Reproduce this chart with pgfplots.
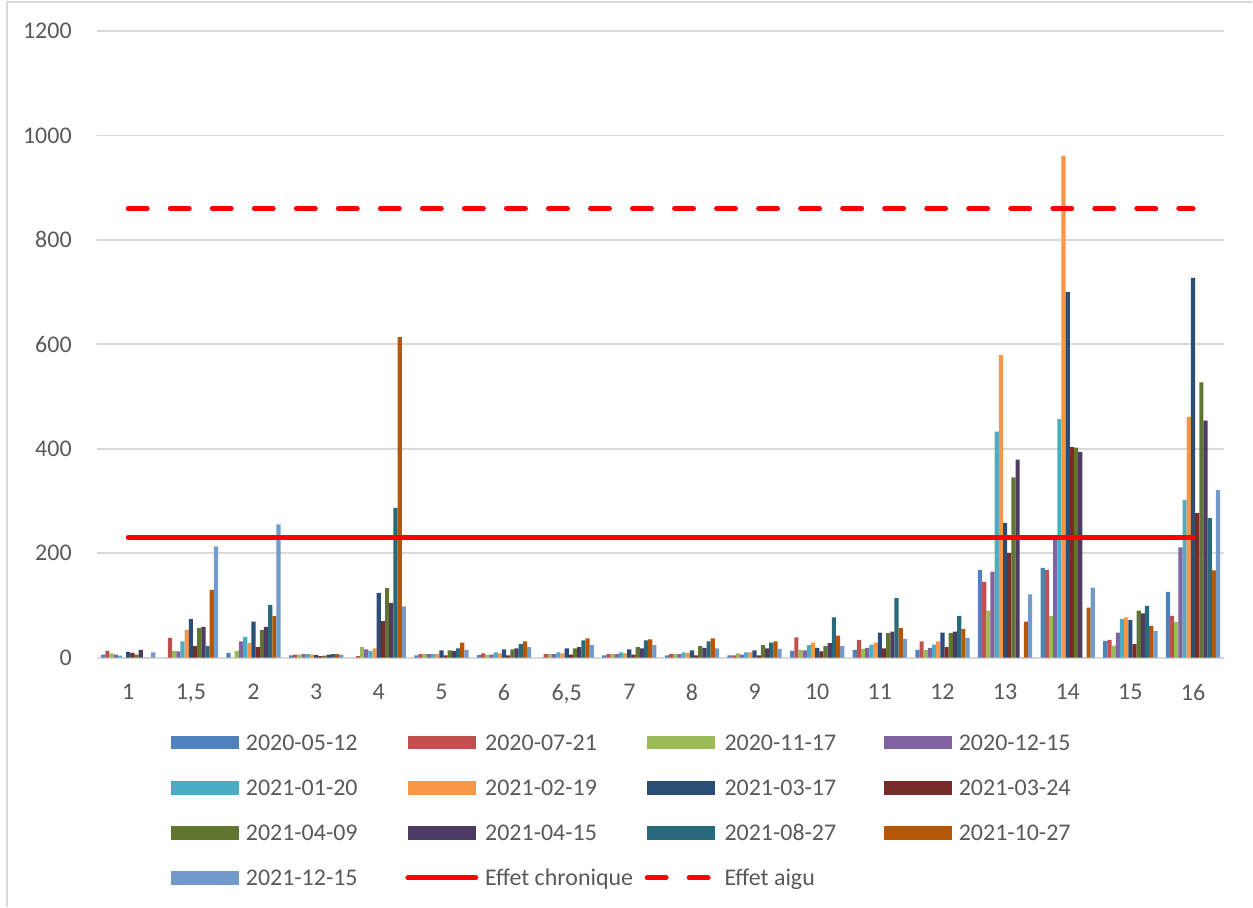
\documentclass[border=0pt]{standalone}
\usepackage{fontspec}
\setmainfont{Carlito}
\usepackage{pgfplots}
\usepackage{pgfplotstable}
\pgfplotsset{compat=1.18}

\definecolor{c1}{HTML}{4F81BD}
\definecolor{c2}{HTML}{C0504D}
\definecolor{c3}{HTML}{9BBB59}
\definecolor{c4}{HTML}{8064A2}
\definecolor{c5}{HTML}{4BACC6}
\definecolor{c6}{HTML}{F79646}
\definecolor{c7}{HTML}{2C4D75}
\definecolor{c8}{HTML}{772C2A}
\definecolor{c9}{HTML}{5F7530}
\definecolor{c10}{HTML}{4D3B62}
\definecolor{c11}{HTML}{276A7C}
\definecolor{c12}{HTML}{B65708}
\definecolor{c13}{HTML}{729ACA}
\definecolor{txt}{HTML}{595959}
\definecolor{grd}{HTML}{D9D9D9}
\definecolor{effet}{HTML}{FF0000}

% one row per x category, one column per sampling date
\pgfplotstableread{
x  s1  s2  s3 s4  s5  s6  s7  s8  s9  s10 s11 s12 s13
0  6   13  8  6   4   0   11  9   6   15  0   0   10
1  0   38  13 12  31  53  74  22  57  59  22  130 213
2  9   0   13 31  40  28  69  20  53  59  101 80  255
3  4.5 6   6  7   7   6   5   3   4   6   7   7   6
4  0   3   20 16  13  18  124 70  133 105 287 614 98
5  4.5 7   7  7   7   7   14  4.5 14  13  18  29  15
6  5   8   6  6   10  8   16  4.5 16  18  26  31  20
7  0   7   7  7   10  8   18  6   18  20  33  37  24
8  4.5 7   7  7   10  8   16  6   20  18  33  35  24
9  4.5 7   7  7   10  9   14  4.5 22  19  31  37  18
10 4.5 4.5 8  6   10  10  14  4.5 24  18  29  31  17
11 13  39  15 14  24  29  19  12  22  28  77  42  22
12 15  34  17 19  25  29  48  18  47  50  114 57  36
13 15  31  15 19  25  31  48  20  47  50  80  55  38
14 168 145 90 165 433 580 258 200 345 379 0   69  121
15 172 168 80 230 457 961 700 403 402 394 0   96  134
16 32  34  23 48  74  77  72  26  90  85  99  61  51
17 126 80  68 211 302 461 727 277 527 454 267 167 321
}\data

\pgfplotsset{
  barser/.style 2 args={ybar, bar width=1.5pt, bar shift=#2, fill=#1, draw=none,
    legend image code/.code={\fill[#1] (0pt,-2.5pt) rectangle (24.4pt,2.5pt);}},
  effline/.style={effet, line width=1.8pt, line cap=round,
    legend image code/.code={\draw[effet, line width=1.8pt, line cap=round, ##1] (0pt,0pt) -- (24.4pt,0pt);}},
}
\newcommand{\lt}[1]{\makebox[57.3pt][l]{#1}}

\begin{document}
\begin{tikzpicture}
\begin{axis}[
    name=ax,
    scale only axis,
    width=405.1pt, height=225.2pt,
    xmin=-0.5, xmax=17.5,
    ymin=0, ymax=1200,
    xtick={0,...,17},
    xticklabels={1,{1,5},2,3,4,5,6,{6,5},7,8,9,10,11,12,13,14,15,16},
    ytick={0,200,...,1200},
    ymajorgrids,
    grid style={grd, line width=0.6pt},
    axis line style={draw=none},
    tick style={draw=none},
    /pgf/number format/assume math mode=true,
    /pgf/number format/1000 sep={},
    tick label style={font=\fontsize{8.6}{10.3}\selectfont, text=txt, inner sep=0pt},
    yticklabel style={anchor=east, xshift=-8.9pt},
    xticklabel style={anchor=north, yshift=-9.3pt},
    legend columns=4,
    legend style={draw=none, fill=none, inner sep=0pt, outer sep=0pt,
      at={(0.0657,-0.1234)}, anchor=north west,
      font=\fontsize{8.6}{10.3}\selectfont, text=txt,
      column sep=0pt, row sep=10.8pt,
      nodes={inner sep=0pt, text height=5.4pt, text depth=0pt, anchor=west},
      /tikz/every odd column/.append style={column sep=2.5pt}},
]
\addplot[barser={c1}{-9pt}] table[x=x, y=s1] {\data};
\addlegendentry{\lt{2020-05-12}}
\addplot[barser={c2}{-7.5pt}] table[x=x, y=s2] {\data};
\addlegendentry{\lt{2020-07-21}}
\addplot[barser={c3}{-6pt}] table[x=x, y=s3] {\data};
\addlegendentry{\lt{2020-11-17}}
\addplot[barser={c4}{-4.5pt}] table[x=x, y=s4] {\data};
\addlegendentry{\lt{2020-12-15}}
\addplot[barser={c5}{-3pt}] table[x=x, y=s5] {\data};
\addlegendentry{\lt{2021-01-20}}
\addplot[barser={c6}{-1.5pt}] table[x=x, y=s6] {\data};
\addlegendentry{\lt{2021-02-19}}
\addplot[barser={c7}{0pt}] table[x=x, y=s7] {\data};
\addlegendentry{\lt{2021-03-17}}
\addplot[barser={c8}{1.5pt}] table[x=x, y=s8] {\data};
\addlegendentry{\lt{2021-03-24}}
\addplot[barser={c9}{3pt}] table[x=x, y=s9] {\data};
\addlegendentry{\lt{2021-04-09}}
\addplot[barser={c10}{4.5pt}] table[x=x, y=s10] {\data};
\addlegendentry{\lt{2021-04-15}}
\addplot[barser={c11}{6pt}] table[x=x, y=s11] {\data};
\addlegendentry{\lt{2021-08-27}}
\addplot[barser={c12}{7.5pt}] table[x=x, y=s12] {\data};
\addlegendentry{\lt{2021-10-27}}
\addplot[barser={c13}{9pt}] table[x=x, y=s13] {\data};
\addlegendentry{\lt{2021-12-15}}

\addplot[effline] coordinates {(0,230) (17,230)};
\addlegendentry{\lt{Effet chronique}}
\addplot[effline, dash pattern=on 6.8pt off 8.3pt] coordinates {(0,860) (17,860)};
\addlegendentry{\lt{Effet aigu}}
\end{axis}
\pgfresetboundingbox
\path ([shift={(-34.84pt,-89.43pt)}]ax.south west) coordinate (bl)
      ([shift={(10.06pt,11.13pt)}]ax.north east) coordinate (tr);
\path (bl) rectangle (tr);
\draw[grd, line width=0.5pt] ([xshift=2.5pt]bl) |- ([yshift=-0.7pt]tr);
\end{tikzpicture}
\end{document}
